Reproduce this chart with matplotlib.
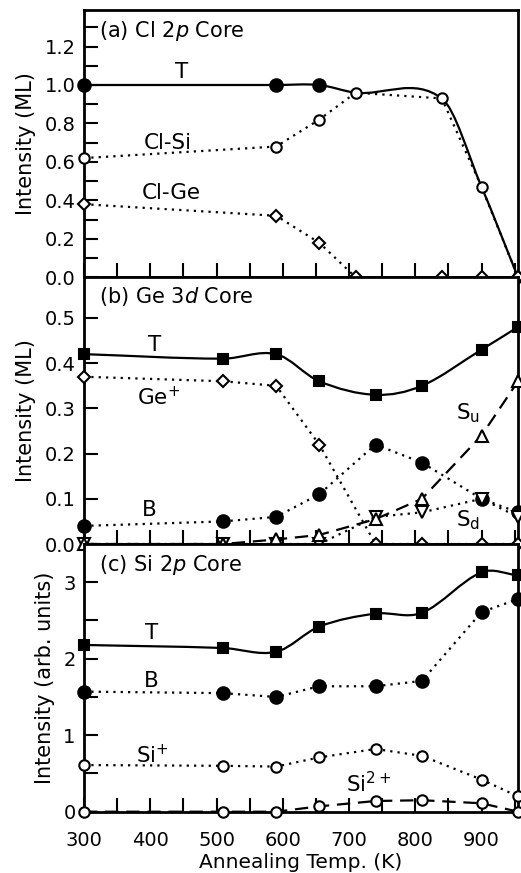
import numpy as np
import matplotlib
matplotlib.use('Agg')
import matplotlib.pyplot as plt
from matplotlib.path import Path
from matplotlib.patches import PathPatch
from matplotlib.ticker import MultipleLocator

# annealing temperatures (K)
temps_a = [300, 590, 655, 710, 840, 900, 955]
temps = [300, 510, 590, 655, 740, 810, 900, 955]

# (a) Cl 2p core (ML)
cl_total = [1.0, 1.0, 1.0, 0.96, 0.93, 0.47, 0.0]
cl_si = [0.62, 0.68, 0.82, 0.96, 0.93, 0.47, 0.0]
cl_ge = [0.38, 0.32, 0.18, 0.0, 0.0, 0.0, 0.0]

# (b) Ge 3d core (ML)
ge_total = [0.42, 0.41, 0.42, 0.36, 0.33, 0.35, 0.43, 0.48]
ge_plus = [0.37, 0.36, 0.35, 0.22, 0.0, 0.0, 0.0, 0.0]
ge_b = [0.04, 0.05, 0.06, 0.11, 0.22, 0.18, 0.10, 0.07]
ge_su = [0.0, 0.0, 0.01, 0.02, 0.055, 0.10, 0.24, 0.36]
ge_sd = [0.0, 0.0, 0.0, 0.0, 0.06, 0.07, 0.10, 0.06]

# (c) Si 2p core (arb. units)
si_total = [2.18, 2.14, 2.09, 2.42, 2.59, 2.60, 3.13, 3.09]
si_b = [1.57, 1.55, 1.50, 1.64, 1.64, 1.71, 2.61, 2.78]
si_plus = [0.61, 0.60, 0.59, 0.71, 0.82, 0.73, 0.42, 0.20]
si_2plus = [0.0, 0.0, 0.0, 0.07, 0.14, 0.15, 0.11, 0.0]

plt.rcParams['font.family'] = ['DejaVu Sans']
plt.rcParams['mathtext.fontset'] = 'dejavusans'
plt.rcParams['font.size'] = 14

DOT = (0, (1, 2.3))
DASH = (0, (6, 3.5))
LBL = 15.5
TTL = 15


def smooth_curve(ax, x, y, lw=1.6):
    # cubic hermite through the measured points, drawn as bezier path
    x = np.asarray(x, float)
    y = np.asarray(y, float)
    n = len(x)
    m = np.zeros(n)
    m[0] = (y[1] - y[0]) / (x[1] - x[0])
    m[-1] = (y[-1] - y[-2]) / (x[-1] - x[-2])
    for i in range(1, n - 1):
        m[i] = (y[i + 1] - y[i - 1]) / (x[i + 1] - x[i - 1])
    verts = [(x[0], y[0])]
    codes = [Path.MOVETO]
    for i in range(n - 1):
        h = (x[i + 1] - x[i]) / 3.0
        verts += [(x[i] + h, y[i] + m[i] * h),
                  (x[i + 1] - h, y[i + 1] - m[i + 1] * h),
                  (x[i + 1], y[i + 1])]
        codes += [Path.CURVE4] * 3
    ax.add_patch(PathPatch(Path(verts, codes), fill=False, lw=lw,
                           color='black', zorder=3, clip_on=False))


def style_axis(ax, ymax, major, minor, fmt):
    ax.set_xlim(300, 955)
    ax.set_ylim(0, ymax)
    ax.xaxis.set_major_locator(MultipleLocator(100))
    ax.xaxis.set_minor_locator(MultipleLocator(50))
    ax.yaxis.set_major_locator(MultipleLocator(major))
    if minor:
        ax.yaxis.set_minor_locator(MultipleLocator(minor))
    ax.tick_params(which='both', direction='in', length=10, width=1.5,
                   top=False, right=False, labelsize=14)
    ax.tick_params(axis='y', pad=6)
    ax.tick_params(axis='x', pad=14)
    ax.yaxis.set_major_formatter(plt.FormatStrFormatter(fmt))
    for s in ax.spines.values():
        s.set_linewidth(2)


fig = plt.figure(figsize=(5.21, 8.73), dpi=100)
left, right = 84 / 521, 518 / 521
tops = [10, 277.3, 544, 811.7]
axes = []
for i in range(3):
    y0 = 1 - tops[i + 1] / 873
    h = (tops[i + 1] - tops[i]) / 873
    axes.append(fig.add_axes([left, y0, right - left, h]))
ax_a, ax_b, ax_c = axes

mk = dict(clip_on=False, markeredgewidth=1.5, color='black', zorder=4)

# ---- (a)
style_axis(ax_a, 1.39, 0.2, 0.1, '%.1f')
smooth_curve(ax_a, temps_a, cl_total)
ax_a.plot(temps_a, cl_total, 'o', markevery=slice(0, 3), ms=9, **mk)
ax_a.plot(temps_a, cl_si, 'o', ls=DOT, lw=1.6, ms=7.5, mfc='white', **mk)
ax_a.plot(temps_a, cl_ge, 'D', ls=DOT, lw=1.6, ms=6.5, mfc='white', **mk)
ax_a.text(0.035, 0.9, '(a) Cl 2$p$ Core', transform=ax_a.transAxes,
          fontsize=TTL, va='baseline')
ax_a.text(447, 1.07, 'T', fontsize=LBL, ha='center', va='center')
ax_a.text(427, 0.70, 'Cl-Si', fontsize=LBL, ha='center', va='center')
ax_a.text(431, 0.44, 'Cl-Ge', fontsize=LBL, ha='center', va='center')
ax_a.set_ylabel('Intensity (ML)', fontsize=15, labelpad=6)

# ---- (b)
style_axis(ax_b, 0.59, 0.1, None, '%.1f')
smooth_curve(ax_b, temps, ge_total)
ax_b.plot(temps, ge_total, 's', ms=6.5, **mk)
ax_b.plot(temps, ge_plus, 'D', ls=DOT, lw=1.6, ms=6.5, mfc='white', **mk)
ax_b.plot(temps, ge_b, 'o', ls=DOT, lw=1.6, ms=9, **mk)
ax_b.plot(temps, ge_sd, 'v', ls=DOT, lw=1.6, ms=8, mfc='white', **mk)
ax_b.plot(temps, ge_su, '^', ls=DASH, lw=1.6, ms=8, mfc='white', **mk)
ax_b.text(0.035, 0.905, '(b) Ge 3$d$ Core', transform=ax_b.transAxes,
          fontsize=TTL, va='baseline')
ax_b.text(407, 0.44, 'T', fontsize=LBL, ha='center', va='center')
ax_b.text(412, 0.325, 'Ge$^{+}$', fontsize=LBL, ha='center', va='center')
ax_b.text(398, 0.075, 'B', fontsize=LBL, ha='center', va='center')
ax_b.text(880, 0.289, 'S$_\\mathrm{u}$', fontsize=LBL, ha='center', va='center')
ax_b.text(880, 0.052, 'S$_\\mathrm{d}$', fontsize=LBL, ha='center', va='center')
ax_b.set_ylabel('Intensity (ML)', fontsize=15, labelpad=6)

# ---- (c)
style_axis(ax_c, 3.5, 1, 0.5, '%d')
smooth_curve(ax_c, temps, si_total)
ax_c.plot(temps, si_total, 's', ms=6.5, **mk)
ax_c.plot(temps, si_b, 'o', ls=DOT, lw=1.6, ms=9, **mk)
ax_c.plot(temps, si_plus, 'o', ls=DOT, lw=1.6, ms=7.5, mfc='white', **mk)
ax_c.plot(temps, si_2plus, 'o', ls=DASH, lw=1.6, ms=7.5, mfc='white', **mk)
ax_c.text(0.035, 0.9, '(c) Si 2$p$ Core', transform=ax_c.transAxes,
          fontsize=TTL, va='baseline')
ax_c.text(402, 2.34, 'T', fontsize=LBL, ha='center', va='center')
ax_c.text(402, 1.71, 'B', fontsize=LBL, ha='center', va='center')
ax_c.text(404, 0.74, 'Si$^{+}$', fontsize=LBL, ha='center', va='center')
ax_c.text(729, 0.37, 'Si$^{2+}$', fontsize=LBL, ha='center', va='center')
ax_c.set_ylabel('Intensity (arb. units)', fontsize=15, labelpad=6)
ax_c.set_xlabel('Annealing Temp. (K)', fontsize=14.5, labelpad=2)

for ax in (ax_a, ax_b):
    ax.tick_params(labelbottom=False)

fig.align_ylabels(axes)
fig.savefig('out.png', dpi=100)
